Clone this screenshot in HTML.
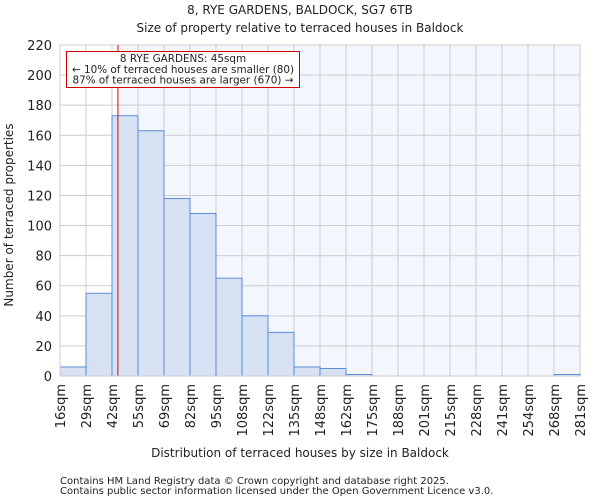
<!DOCTYPE html>
<html><head><meta charset="utf-8"><style>
body{margin:0;background:#fff;font-family:"DejaVu Sans","Liberation Sans",sans-serif;}
svg text{font-family:"DejaVu Sans","Liberation Sans",sans-serif;fill:#222;}
</style></head><body>
<svg id="c" width="600" height="500" xmlns="http://www.w3.org/2000/svg">
<text x="300" y="14" font-size="12" text-anchor="middle">8, RYE GARDENS, BALDOCK, SG7 6TB</text>
<text x="300" y="32" font-size="12" text-anchor="middle">Size of property relative to terraced houses in Baldock</text>
<g id="plot"></g>
<text x="300" y="457" font-size="12" text-anchor="middle">Distribution of terraced houses by size in Baldock</text>
<text transform="translate(13,215) rotate(-90)" font-size="12" text-anchor="middle">Number of terraced properties</text>
<text x="60" y="484" font-size="10" fill="#444">Contains HM Land Registry data © Crown copyright and database right 2025.</text>
<text x="60" y="494" font-size="10" fill="#444">Contains public sector information licensed under the Open Government Licence v3.0.</text>
</svg>
<script>
const categories=["16sqm","29sqm","42sqm","55sqm","69sqm","82sqm","95sqm","108sqm","122sqm","135sqm","148sqm","162sqm","175sqm","188sqm","201sqm","215sqm","228sqm","241sqm","254sqm","268sqm","281sqm"];
const counts=[6,55,173,163,118,108,65,40,29,6,5,1,0,0,0,0,0,0,0,1];
const yTicks=[0,20,40,60,80,100,120,140,160,180,200,220];
const marker=45;
const binStart=16, binWidth=13.25;
const L=60,R=580,T=45,B=376,yMax=220;
const nb=counts.length, bw=(R-L)/nb;
const X=i=>L+i*bw;
const Y=v=>B-(v/yMax)*(B-T);
const XV=v=>L+(v-binStart)/binWidth*bw+1;
const NS="http://www.w3.org/2000/svg";
const g=document.getElementById('plot');
function mk(t,a){const e=document.createElementNS(NS,t);for(const k in a)e.setAttribute(k,a[k]);g.appendChild(e);return e;}
const mx=XV(marker);
const bg=mk('rect',{x:mx,y:T,width:R-mx,height:B-T,fill:'#f3f6fd'});


yTicks.forEach(v=>{
 const l=mk('line',{x1:L,x2:R,y1:Y(v),y2:Y(v),stroke:'#ccc','stroke-width':1});
 
 
 const t=mk('text',{x:L-8,y:Y(v)+5,'font-size':13,'text-anchor':'end'});t.textContent=v;
 
 
});
categories.forEach((c,i)=>{
 const l=mk('line',{x1:X(i),x2:X(i),y1:T,y2:B,stroke:'#ccc','stroke-width':1});
 
 
 const t=mk('text',{transform:`translate(${X(i)+5},${B+8}) rotate(-90)`,'font-size':13,'text-anchor':'end'});t.textContent=c;
 
 
});
counts.forEach((v,i)=>{
 const r=mk('rect',{x:X(i),y:Y(v),width:bw,height:B-Y(v),fill:'#d6e1f3',stroke:'#5b8dd6','stroke-width':1});
 
 
});
const ml=mk('line',{x1:mx,x2:mx,y1:T,y2:B,stroke:'#d00','stroke-width':1});


const ax=mk('path',{d:`M${L} ${T}V${B}H${R}`,fill:'none',stroke:'#ccc'});


const box=mk('rect',{x:66.5,y:51.5,width:233,height:36,fill:'#fff',stroke:'#c00','stroke-width':1});


[["8 RYE GARDENS: 45sqm",62],["← 10% of terraced houses are smaller (80)",73],["87% of terraced houses are larger (670) →",83.5]].forEach(([s,y])=>{
 const t=mk('text',{x:183,y:y,'font-size':10.4,'text-anchor':'middle'});t.textContent=s;
 
 
});
</script>
</body></html>
